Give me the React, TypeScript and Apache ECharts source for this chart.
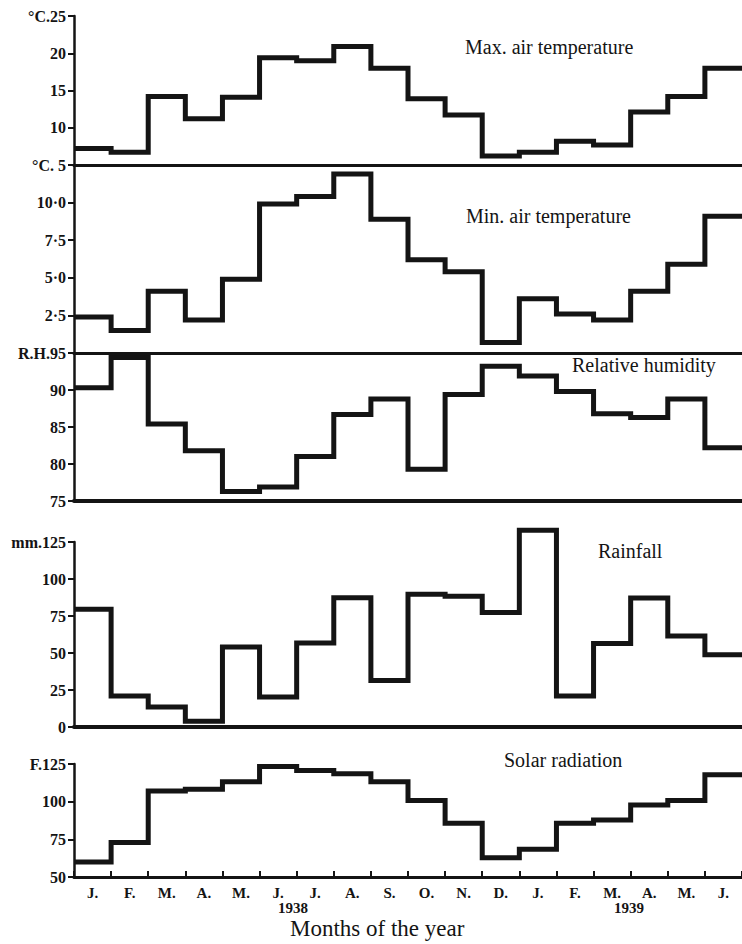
import React, { useEffect, useRef } from "react";
import * as echarts from "echarts";

const months = ["J.", "F.", "M.", "A.", "M.", "J.", "J.", "A.", "S.", "O.", "N.", "D.", "J.", "F.", "M.", "A.", "M.", "J."];

const maxTemp = [7.2, 6.7, 14.2, 11.2, 14.1, 19.4, 19.0, 20.9, 18.0, 13.9, 11.7, 6.2, 6.7, 8.2, 7.7, 12.1, 14.2, 18.0];
const minTemp = [2.4, 1.5, 4.1, 2.2, 4.9, 9.9, 10.4, 11.9, 8.9, 6.2, 5.4, 0.7, 3.6, 2.6, 2.2, 4.1, 5.9, 9.1];
const humidity = [90.3, 94.4, 85.4, 81.8, 76.3, 76.9, 81.0, 86.7, 88.8, 79.3, 89.4, 93.2, 91.9, 89.8, 86.8, 86.3, 88.8, 82.2];
const rainfall = [79.5, 20.9, 13.5, 3.9, 54, 20.3, 56.8, 87.4, 31.5, 89.7, 88.3, 77.3, 132.9, 20.9, 56.4, 87.2, 61.5, 48.9];
const solar = [60, 72.9, 107.1, 108.3, 113.3, 123.3, 120.7, 118.5, 113.3, 100.7, 85.6, 62.7, 68.5, 85.6, 87.8, 97.8, 100.7, 117.8];

const maxTempTickValues = [5, 10, 15, 20, 25];
const maxTempTickLabels = ["°C. 5", "10", "15", "20", "°C.25"];
const minTempTickValues = [0, 2.5, 5, 7.5, 10, 12.5];
const minTempTickLabels = ["", "2·5", "5·0", "7·5", "10·0", ""];
const humidityTickValues = [75, 80, 85, 90, 95];
const humidityTickLabels = ["75", "80", "85", "90", "R.H.95"];
const rainTickValues = [0, 25, 50, 75, 100, 125];
const rainTickLabels = ["0", "25", "50", "75", "100", "mm.125"];
const solarTickValues = [50, 75, 100, 125];
const solarTickLabels = ["50", "75", "100", "F.125"];

const titles = ["Max. air temperature", "Min. air temperature", "Relative humidity", "Rainfall", "Solar radiation"];
const years = ["1938", "1939"];
const xTitle = "Months of the year";

const FONT = "Liberation Serif";
const INK = "#141414";
const GRID_LEFT = 74;
const GRID_WIDTH = 673;

const panels = [
  { top: 16, height: 149, min: 5, max: 25, interval: 5, data: maxTemp, tv: maxTempTickValues, tl: maxTempTickLabels, axisW: 3, title: { x: 465, y: 48 } },
  { top: 165, height: 188, min: 0, max: 12.5, interval: 2.5, data: minTemp, tv: minTempTickValues, tl: minTempTickLabels, axisW: 3, title: { x: 466, y: 217 } },
  { top: 353, height: 148, min: 75, max: 95, interval: 5, data: humidity, tv: humidityTickValues, tl: humidityTickLabels, axisW: 4, title: { x: 572, y: 366 } },
  { top: 542, height: 185, min: 0, max: 125, interval: 25, data: rainfall, tv: rainTickValues, tl: rainTickLabels, axisW: 4, title: { x: 598, y: 552 } },
  { top: 764, height: 113, min: 50, max: 125, interval: 25, data: solar, tv: solarTickValues, tl: solarTickLabels, axisW: 3, title: { x: 504, y: 761 } },
];

export default function App() {
  const ref = useRef<HTMLDivElement>(null);
  useEffect(() => {
    document.body.style.margin = "0";
    if (!ref.current) return;
    const chart = echarts.init(ref.current, undefined, { renderer: "svg" });
    const grid: any[] = [];
    const xAxis: any[] = [];
    const yAxis: any[] = [];
    const series: any[] = [];
    const graphic: any[] = [];
    panels.forEach((p, i) => {
      const last = i === panels.length - 1;
      grid.push({ left: GRID_LEFT, width: GRID_WIDTH, top: p.top, height: p.height });
      xAxis.push({
        type: "category",
        gridIndex: i,
        data: months,
        boundaryGap: true,
        axisLine: { show: true, onZero: false, lineStyle: { color: INK, width: p.axisW } },
        axisTick: { show: last, inside: true, length: 6, lineStyle: { color: INK, width: 2 } },
        axisLabel: { show: last, margin: 8, color: INK, fontFamily: FONT, fontWeight: "bold", fontSize: 15 },
        splitLine: { show: false },
      });
      xAxis.push({
        type: "value",
        gridIndex: i,
        min: 0,
        max: months.length,
        show: false,
      });
      yAxis.push({
        type: "value",
        gridIndex: i,
        min: p.min,
        max: p.max,
        interval: p.interval,
        axisLine: { show: true, lineStyle: { color: INK, width: 2.5 } },
        axisTick: { show: true, length: 6, lineStyle: { color: INK, width: 2 } },
        splitLine: { show: false },
        axisLabel: {
          show: true,
          showMinLabel: true,
          showMaxLabel: true,
          margin: 8,
          color: INK,
          fontFamily: FONT,
          fontWeight: "bold",
          fontSize: 16,
          formatter: (v: number) => {
            const k = p.tv.findIndex((t) => Math.abs(t - v) < 1e-6);
            return k >= 0 ? p.tl[k] : "";
          },
        },
      });
      const pts: number[][] = p.data.map((v, k) => [k, v]);
      pts.push([p.data.length, p.data[p.data.length - 1]]);
      series.push({
        type: "line",
        xAxisIndex: i * 2 + 1,
        yAxisIndex: i,
        data: pts,
        step: "end",
        symbol: "none",
        clip: false,
        lineStyle: { color: INK, width: 5, cap: "butt", join: "miter" },
      });
      graphic.push({
        type: "text",
        left: p.title.x,
        top: p.title.y - 11,
        style: { text: titles[i], fill: INK, fontFamily: FONT, fontSize: 20 },
      });
    });
    graphic.push({
      type: "text",
      left: 295 - 17,
      top: 900,
      style: { text: years[0], fill: INK, fontFamily: FONT, fontWeight: "bold", fontSize: 15 },
    });
    graphic.push({
      type: "text",
      left: 631 - 17,
      top: 900,
      style: { text: years[1], fill: INK, fontFamily: FONT, fontWeight: "bold", fontSize: 15 },
    });
    graphic.push({
      type: "text",
      left: 290,
      top: 917,
      style: { text: xTitle, fill: INK, fontFamily: FONT, fontSize: 23 },
    });
    chart.setOption({
      animation: false,
      backgroundColor: "#ffffff",
      grid,
      xAxis,
      yAxis,
      series,
      graphic,
    });
    return () => chart.dispose();
  }, []);
  return <div ref={ref} style={{ width: 742, height: 944 }} />;
}
